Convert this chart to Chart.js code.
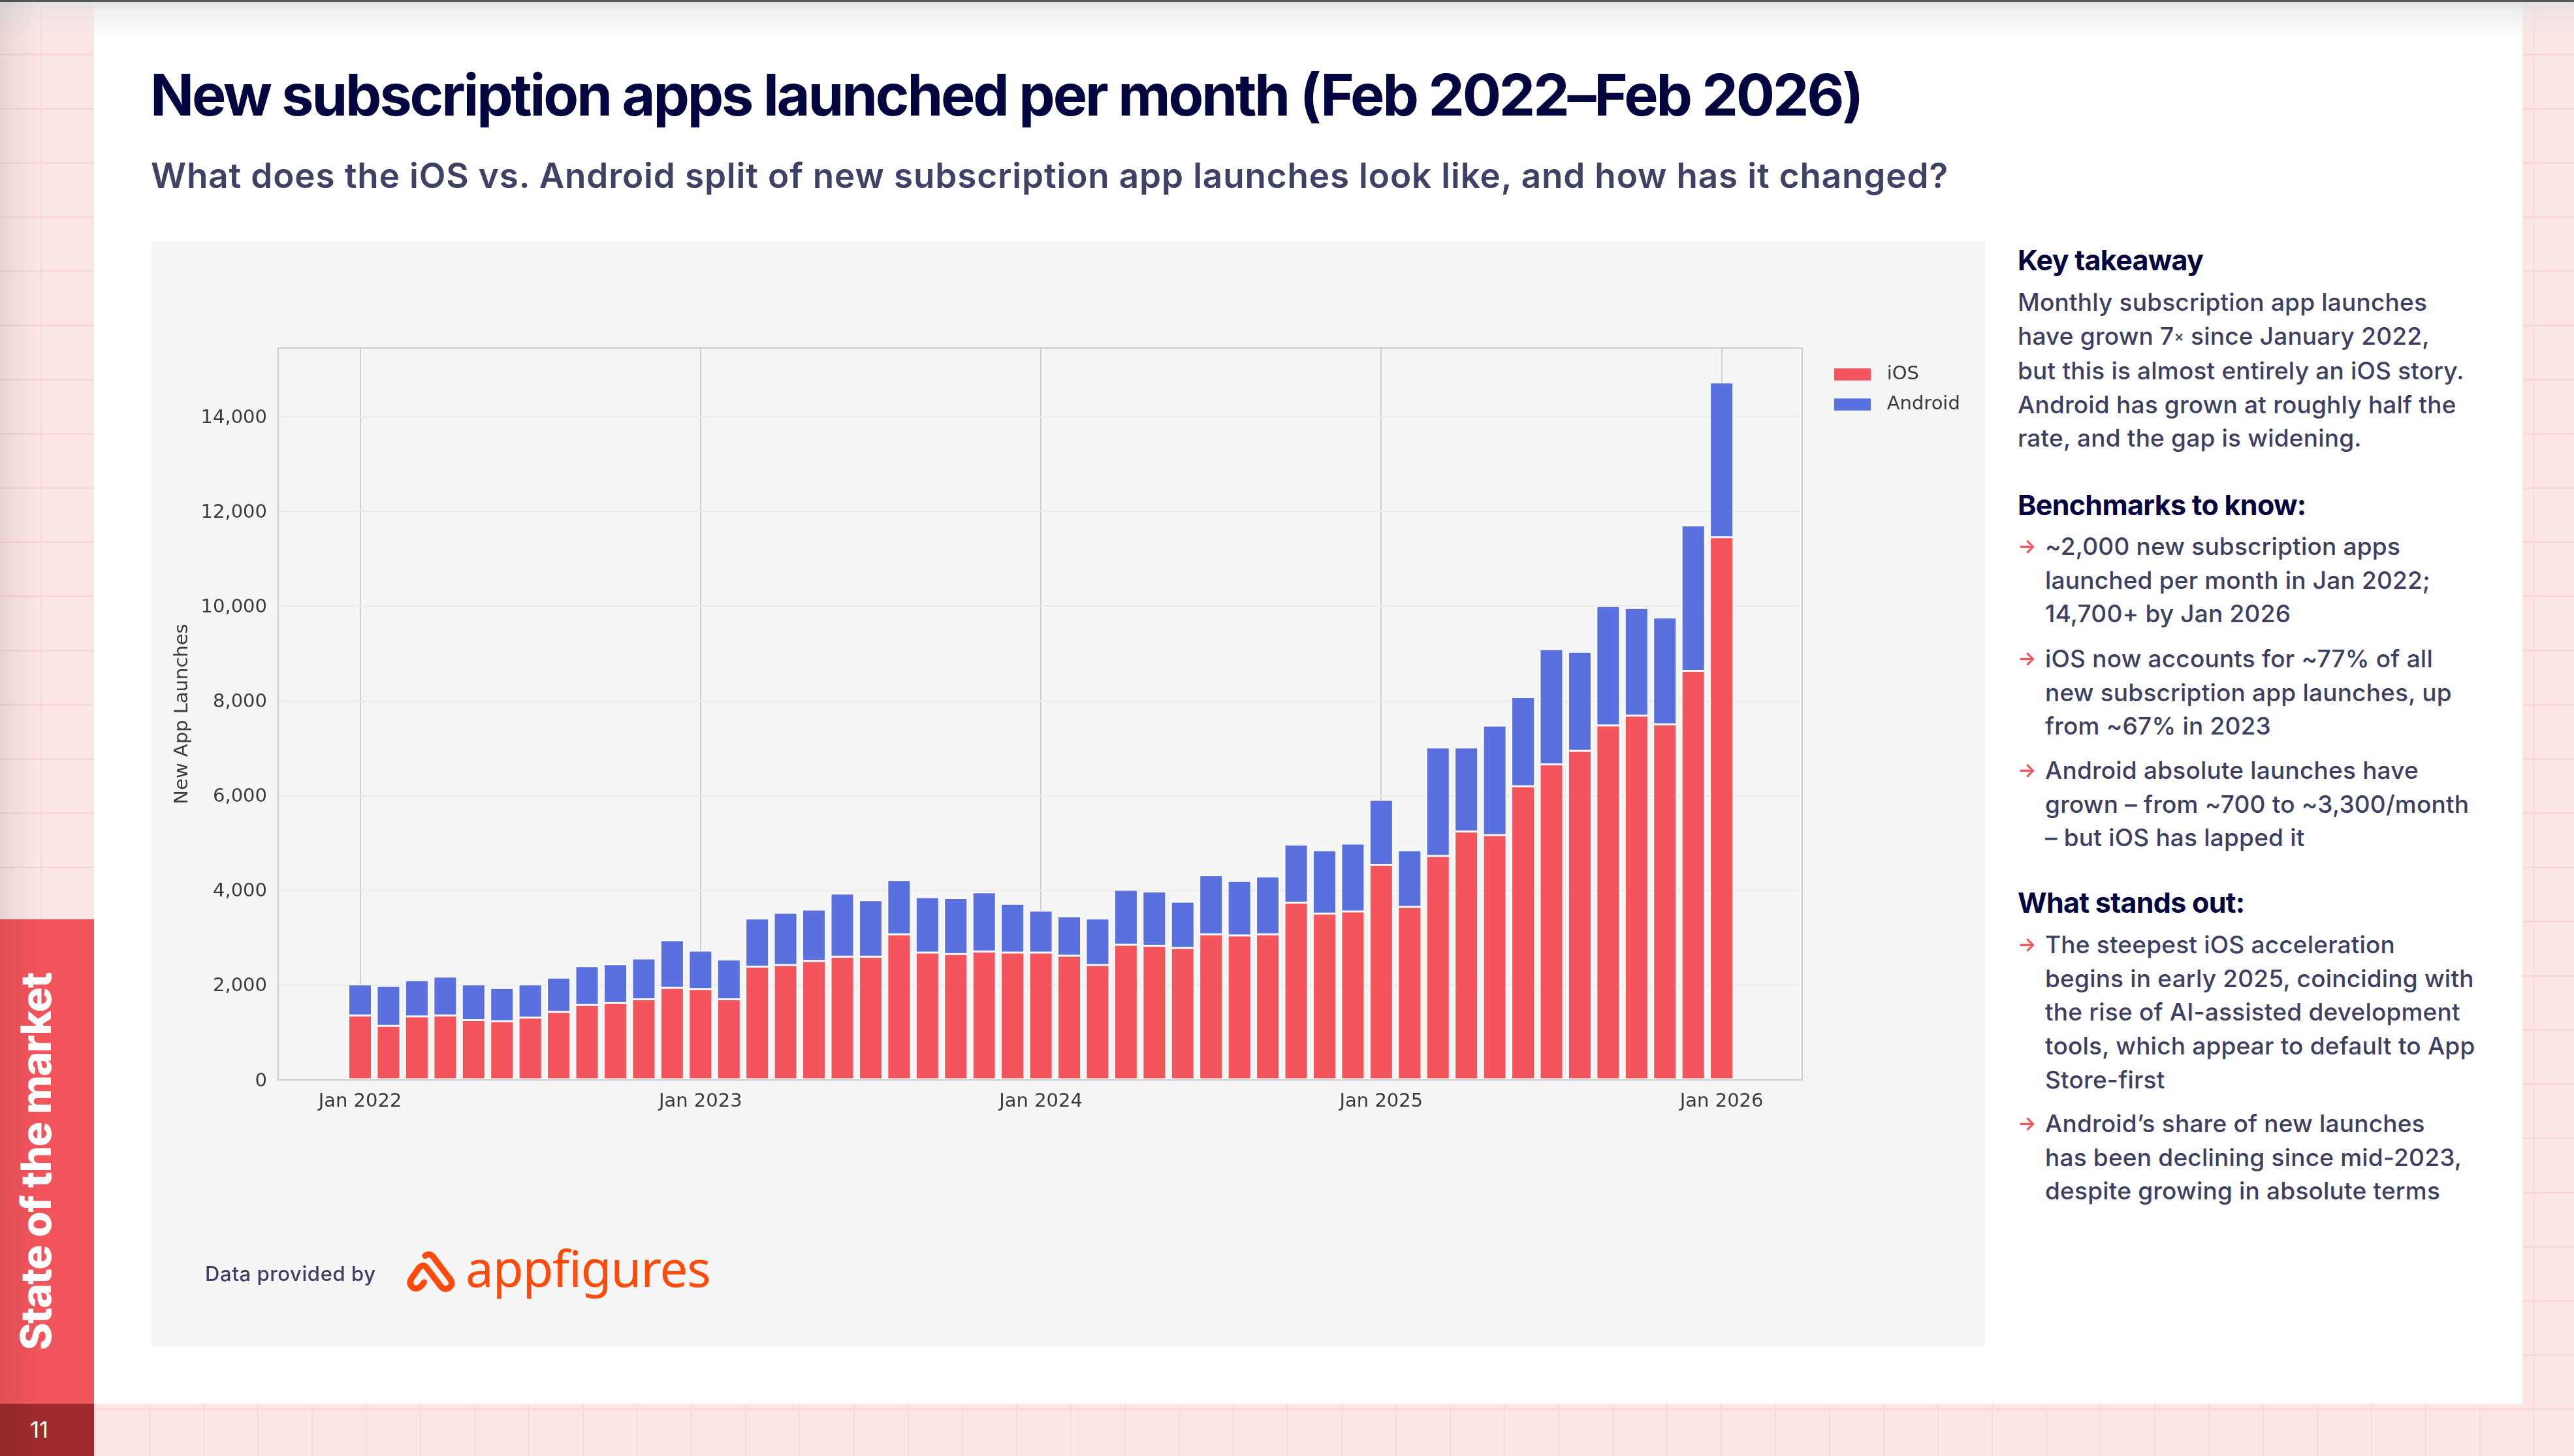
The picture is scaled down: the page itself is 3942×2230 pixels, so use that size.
<!DOCTYPE html>
<html>
<head>
<meta charset="utf-8">
<title>New subscription apps launched per month</title>
<script src="https://cdn.jsdelivr.net/npm/chart.js@4/dist/chart.umd.min.js"></script>
<style>
  html, body { margin: 0; padding: 0; }
  body {
    position: relative;
    width: 3942px; height: 2230px; overflow: hidden;
    font-family: Inter, sans-serif;
    background-color: #fde6e6;
    background-image:
      linear-gradient(#fad8da 3px, transparent 3px),
      linear-gradient(90deg, #fad8da 2px, transparent 2px);
    background-size: 83px 83px;
    background-position: -21px -1px;
  }
  .abs { position: absolute; white-space: nowrap; }
  #sheet { left: 144px; top: 0; width: 3719px; height: 2150px; background: #fff; }
  #topshade { left: 0; top: 0; width: 3942px; height: 60px; background: linear-gradient(#e2e2e2 4px, rgba(225,225,225,.55) 16px, rgba(255,255,255,0)); }
  #topline { left: 0; top: 0; width: 3942px; height: 3px; background: #555; }
  #tab { left: 0; top: 1408px; width: 144px; height: 742px; background: #f2545b; }
  #pageno { left: 0; top: 2150px; width: 120px; height: 80px; background: none; color: #fff; font-size: 34px; line-height: 80px; text-align: center; z-index: 2; }
  #pagetab { left: 0; top: 2150px; width: 144px; height: 80px; background: #9f2a2c; }
  #leftshade { left: 0; top: 0; width: 60px; height: 2230px; background: linear-gradient(90deg, rgba(0,0,0,.08), rgba(0,0,0,0)); }
  #section { left: 22px; top: 2068px; transform-origin: 0 0; transform: rotate(-90deg); color: #fff; font-weight: 800; font-size: 64px; line-height: 66px; letter-spacing: -1.3px; }
  #title { left: 230px; top: 92px; color: #03063f; font-weight: 700; font-size: 88px; line-height: 106px; letter-spacing: -3.15px; }
  #subtitle { left: 231px; top: 236px; color: #3f4165; font-weight: 600; font-size: 53px; line-height: 66px; letter-spacing: .85px; }
  #panel { left: 232px; top: 370px; width: 2808px; height: 1692px; background: #f5f5f5; }
  #chart { position: absolute; left: 232px; top: 370px; }
  #credit { left: 314px; top: 1932px; color: #3c3f63; font-weight: 500; font-size: 31px; line-height: 38px; letter-spacing: .6px; }
  #logo { left: 600px; top: 1890px; }
  #brand { left: 713px; top: 1896px; color: #ff4a0a; font-family: "Noto Sans", sans-serif; font-size: 76px; line-height: 92px; letter-spacing: -1px; }
  .head { left: 3090px; color: #03063f; font-weight: 700; font-size: 43px; line-height: 52px; letter-spacing: -.7px; }
  .body { left: 3090px; color: #3c3f63; font-weight: 500; font-size: 37px; line-height: 51.7px; letter-spacing: .2px; }
  .bul { left: 3132px; color: #3c3f63; font-weight: 500; font-size: 37px; line-height: 51.7px; letter-spacing: .2px; }
  .arrow { left: 3090px; color: #f2545b; font-size: 30px; line-height: 51.7px; font-weight: 600; }
  .times { font-size: .62em; vertical-align: .2em; }
</style>
</head>
<body>
<div class="abs" id="sheet"></div>
<div class="abs" id="topshade"></div>
<div class="abs" id="topline"></div>
<div class="abs" id="tab"></div>
<div class="abs" id="pagetab"></div>
<div class="abs" id="leftshade"></div>
<div class="abs" id="pageno">11</div>
<div class="abs" id="section">State of the market</div>

<div class="abs" id="title">New subscription apps launched per month (Feb 2022–Feb 2026)</div>
<div class="abs" id="subtitle">What does the iOS vs. Android split of new subscription app launches look like, and how has it changed?</div>

<div class="abs" id="panel"></div>
<canvas id="chart" width="2808" height="1692"></canvas>

<div class="abs" id="credit">Data provided by</div>
<svg class="abs" id="logo" width="120" height="110" viewBox="0 0 360 330">
  <path d="M153 100 Q175 85 190 105 L270 210 Q285 235 258 250 Q240 258 225 240 L160 155 Q145 135 125 155 L90 205 Q75 230 100 248 Q125 258 148 222"
        fill="none" stroke="#ff4a0a" stroke-width="28" stroke-linecap="round"/>
</svg>
<div class="abs" id="brand">appfigures</div>

<div class="abs head" style="top:372px">Key takeaway</div>
<div class="abs body" style="top:437px">Monthly subscription app launches<br>have grown 7<span class="times">×</span> since January 2022,<br>but this is almost entirely an iOS story.<br>Android has grown at roughly half the<br>rate, and the gap is widening.</div>

<div class="abs head" style="top:747px">Benchmarks to know:</div>
<div class="abs arrow" style="top:811px">→</div>
<div class="abs bul" style="top:811px">~2,000 new subscription apps<br>launched per month in Jan 2022;<br>14,700+ by Jan 2026</div>
<div class="abs arrow" style="top:983px">→</div>
<div class="abs bul" style="top:983px">iOS now accounts for ~77% of all<br>new subscription app launches, up<br>from ~67% in 2023</div>
<div class="abs arrow" style="top:1154px">→</div>
<div class="abs bul" style="top:1154px">Android absolute launches have<br>grown – from ~700 to ~3,300/month<br>– but iOS has lapped it</div>

<div class="abs head" style="top:1356px">What stands out:</div>
<div class="abs arrow" style="top:1421px">→</div>
<div class="abs bul" style="top:1421px">The steepest iOS acceleration<br>begins in early 2025, coinciding with<br>the rise of AI-assisted development<br>tools, which appear to default to App<br>Store-first</div>
<div class="abs arrow" style="top:1695px">→</div>
<div class="abs bul" style="top:1695px">Android’s share of new launches<br>has been declining since mid-2023,<br>despite growing in absolute terms</div>

<script>
const months = [
  'Jan 2022', 'Feb 2022', 'Mar 2022', 'Apr 2022', 'May 2022', 'Jun 2022', 'Jul 2022', 'Aug 2022', 'Sep 2022', 'Oct 2022', 'Nov 2022', 'Dec 2022',
  'Jan 2023', 'Feb 2023', 'Mar 2023', 'Apr 2023', 'May 2023', 'Jun 2023', 'Jul 2023', 'Aug 2023', 'Sep 2023', 'Oct 2023', 'Nov 2023', 'Dec 2023',
  'Jan 2024', 'Feb 2024', 'Mar 2024', 'Apr 2024', 'May 2024', 'Jun 2024', 'Jul 2024', 'Aug 2024', 'Sep 2024', 'Oct 2024', 'Nov 2024', 'Dec 2024',
  'Jan 2025', 'Feb 2025', 'Mar 2025', 'Apr 2025', 'May 2025', 'Jun 2025', 'Jul 2025', 'Aug 2025', 'Sep 2025', 'Oct 2025', 'Nov 2025', 'Dec 2025',
  'Jan 2026'
];
const iosValues = [
  1360, 1141, 1339, 1360, 1262, 1240, 1317, 1437, 1580, 1624, 1701, 1942,
  1920, 1701, 2392, 2425, 2513, 2600, 2600, 3072, 2688, 2655, 2710, 2688,
  2688, 2622, 2425, 2853, 2831, 2787, 3072, 3050, 3072, 3741, 3511, 3555,
  4542, 3654, 4729, 5245, 5168, 6199, 6660, 6945, 7483, 7691, 7505, 8635,
  11455
];
const androidValues = [
  656, 842, 765, 820, 754, 699, 699, 722, 820, 820, 864, 1007,
  809, 842, 1017, 1105, 1083, 1336, 1193, 1149, 1171, 1182, 1248, 1029,
  886, 831, 984, 1160, 1149, 974, 1248, 1149, 1226, 1226, 1336, 1434,
  1369, 1193, 2290, 1774, 2312, 1884, 2433, 2093, 2521, 2269, 2257, 3069,
  3267
];
const yTickValues = [0, 2000, 4000, 6000, 8000, 10000, 12000, 14000];

const inkColor = '#3a3a3a';
const chartFont = 'DejaVu Sans';

// top and right edges of the plot box, scales only draw the other two
const plotFrame = {
  id: 'plotFrame',
  beforeDatasetsDraw(chart) {
    const { ctx, chartArea: a } = chart;
    ctx.save();
    ctx.strokeStyle = '#cccccc';
    ctx.lineWidth = 2;
    ctx.strokeRect(a.left, a.top, a.right - a.left, a.bottom - a.top);
    ctx.restore();
  }
};

// legend sits outside the plot, right of it
const legendSpot = {
  id: 'legendSpot',
  afterLayout(chart) {
    const l = chart.legend;
    const w = l.right - l.left, h = l.bottom - l.top;
    l.left = 2559; l.right = l.left + w;
    l.top = 172; l.bottom = l.top + h;
  }
};

new Chart(document.getElementById('chart'), {
  type: 'bar',
  plugins: [plotFrame, legendSpot],
  data: {
    datasets: [
      {
        label: 'iOS',
        data: months.map((m, i) => ({ x: i, y: iosValues[i] })),
        backgroundColor: '#f4555d',
        borderColor: '#ffffff',
        borderWidth: 1.5,
        borderSkipped: false,
        barPercentage: 0.83,
        categoryPercentage: 1
      },
      {
        label: 'Android',
        data: months.map((m, i) => ({ x: i, y: androidValues[i] })),
        backgroundColor: '#5a70de',
        borderColor: '#ffffff',
        borderWidth: 1.5,
        borderSkipped: false,
        barPercentage: 0.83,
        categoryPercentage: 1
      }
    ]
  },
  options: {
    responsive: false,
    devicePixelRatio: 1,
    animation: false,
    layout: { padding: { left: 30, top: 163, right: 280, bottom: 348 } },
    scales: {
      x: {
        type: 'linear',
        stacked: true,
        offset: false,
        min: -2.89,
        max: 50.84,
        afterFit(scale) { scale.height = 60; },
        border: { display: false },
        grid: { offset: false, color: '#cfcfcf', lineWidth: 2, drawTicks: false },
        ticks: {
          stepSize: 12,
          includeBounds: false,
          autoSkip: false,
          maxRotation: 0,
          padding: 16,
          color: inkColor,
          font: { family: chartFont, size: 29 },
          callback: (v) => months[v]
        }
      },
      y: {
        stacked: true,
        min: 0,
        max: 15450,
        // stepSize gets rounded to fit the max, so the ticks are set by hand
        afterBuildTicks(scale) { scale.ticks = yTickValues.map((v) => ({ value: v })); },
        afterFit(scale) { scale.width = 164; },
        border: { display: false },
        grid: { color: '#ebebeb', lineWidth: 2, drawTicks: false },
        ticks: {
          padding: 17,
          labelOffset: 2,
          color: inkColor,
          font: { family: chartFont, size: 29 },
          callback: (v) => v.toLocaleString('en-US')
        },
        title: {
          display: true,
          text: 'New App Launches',
          color: inkColor,
          font: { family: chartFont, size: 29 },
          padding: 0
        }
      }
    },
    plugins: {
      tooltip: { enabled: false },
      legend: {
        position: 'chartArea',
        align: 'start',
        labels: {
          boxWidth: 58,
          boxHeight: 20,
          padding: 17,
          color: inkColor,
          font: { family: chartFont, size: 29 },
          generateLabels(chart) {
            return Chart.defaults.plugins.legend.labels.generateLabels(chart).map((item) => {
              item.text = ' ' + item.text;
              return item;
            });
          }
        }
      }
    }
  }
});
</script>
</body>
</html>
